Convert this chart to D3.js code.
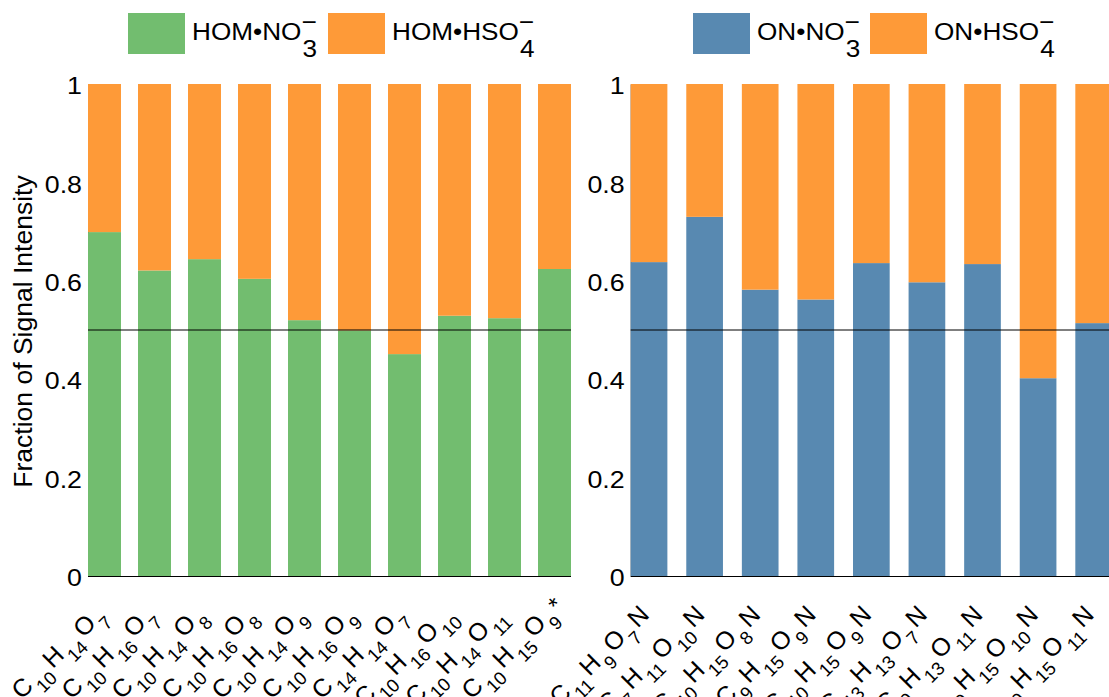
<!DOCTYPE html>
<html>
<head>
<meta charset="utf-8">
<script src="https://cdn.jsdelivr.net/npm/d3@7"></script>
<style>
  body { margin: 0; background: #fff; }
  text { font-family: "Liberation Sans", Arial, Helvetica, sans-serif; fill: #000; }
</style>
</head>
<body>
<svg id="chart" width="1109" height="697"></svg>
<script>
// HOM panel: fraction of each molecule detected as the nitrate cluster
const homFormulas = ["C10H14O7", "C10H16O7", "C10H14O8", "C10H16O8", "C10H14O9",
                     "C10H16O9", "C14H14O7", "C10H16O10", "C10H14O11", "C10H15O9*"];
const homNitrate = [0.699, 0.621, 0.644, 0.604, 0.520, 0.499, 0.451, 0.529, 0.524, 0.624];

// Organic nitrate panel
const onFormulas = ["C11H9O7N", "C7H11O10N", "C10H15O8N", "C9H15O9N", "C10H15O9N",
                    "C13H13O7N", "C9H13O11N", "C10H15O10N", "C10H15O11N"];
const onNitrate = [0.638, 0.730, 0.582, 0.562, 0.636, 0.597, 0.634, 0.402, 0.514];

const yTicks = [0, 0.2, 0.4, 0.6, 0.8, 1];
const yTickLabels = ["0", "0.2", "0.4", "0.6", "0.8", "1"];
const referenceLevel = 0.5;
const yTitle = "Fraction of Signal Intensity";

const homLegend = [
  { key: "nitrate", main: "HOM\u2022NO", sub: "3" },
  { key: "bisulfate", main: "HOM\u2022HSO", sub: "4" }
];
const onLegend = [
  { key: "nitrate", main: "ON\u2022NO", sub: "3" },
  { key: "bisulfate", main: "ON\u2022HSO", sub: "4" }
];

const colors = { green: "#72bd6f", blue: "#5889b1", orange: "#fe9a38" };

const svg = d3.select("#chart");
const y = d3.scaleLinear().domain([0, 1]).range([576, 84]);

// split a formula into element symbols and subscript counts
function formulaRuns(f) {
  const runs = [];
  const re = /([A-Z][a-z]?)(\d*)/g;
  let m;
  while ((m = re.exec(f)) !== null) {
    runs.push({ t: m[1], kind: "main" });
    if (m[2]) runs.push({ t: m[2], kind: "sub" });
  }
  return runs;
}

function drawPanel(opts) {
  const { formulas, nitrate, x0, x1, color, showTitle } = opts;
  const g = svg.append("g");
  const x = d3.scaleBand().domain(formulas).range([x0, x1])
    .paddingInner(0.34).paddingOuter(0);

  const rows = formulas.map((f, i) => ({ f, nitrate: nitrate[i], bisulfate: 1 - nitrate[i] }));
  const series = d3.stack().keys(["nitrate", "bisulfate"])(rows);
  const fill = { nitrate: color, bisulfate: colors.orange };

  // y axis
  const yAxis = d3.axisLeft(y).tickValues(yTicks)
    .tickFormat((d, i) => yTickLabels[i]).tickSize(0).tickPadding(6);
  const ya = g.append("g").attr("transform", `translate(${x0},0)`).call(yAxis);
  ya.select(".domain").attr("stroke", "#444").attr("stroke-width", 1);
  ya.selectAll(".tick text")
    .attr("font-size", 23.3).attr("fill", "#000")
    .attr("font-family", "Liberation Sans, Arial, sans-serif")
    .attr("x", null).attr("dy", "0.42em")
    .attr("transform", "translate(-6,0) scale(1.15,1)");

  // stacked bars
  g.append("g").selectAll("g").data(series).join("g")
    .attr("fill", s => fill[s.key])
    .selectAll("rect").data(s => s).join("rect")
    .attr("x", d => x(d.data.f))
    .attr("width", x.bandwidth())
    .attr("y", d => y(d[1]))
    .attr("height", d => y(d[0]) - y(d[1]));

  // baseline and 0.5 reference line
  g.append("line").attr("x1", x0).attr("x2", x1)
    .attr("y1", y(0) + 0.5).attr("y2", y(0) + 0.5)
    .attr("stroke", "#000").attr("stroke-width", 1.2);
  g.append("line").attr("x1", x0).attr("x2", x1)
    .attr("y1", y(referenceLevel)).attr("y2", y(referenceLevel))
    .attr("stroke", "#000").attr("stroke-width", 1);

  // rotated formula labels
  formulas.forEach(f => {
    const cx = x(f) + x.bandwidth() / 2;
    const lg = g.append("g")
      .attr("transform", `translate(${cx + 1.5},${y(0) + 40}) rotate(-45)`);
    const t = lg.append("text").attr("text-anchor", "end").attr("font-size", 25);
    let prev = null;
    formulaRuns(f).forEach(r => {
      const ts = t.append("tspan").text(r.t);
      if (r.kind === "sub") {
        ts.attr("font-size", 18.5).attr("dx", 2).attr("dy", 11);
      } else if (prev === "sub") {
        ts.attr("dx", 3).attr("dy", -11);
      }
      prev = r.kind;
    });
    if (f.endsWith("*")) {
      lg.append("text").attr("x", 3).attr("y", 0)
        .attr("font-size", 24).text("*");
    }
  });

  if (showTitle) {
    svg.append("text")
      .attr("transform", `translate(32,${(y(0) + y(1)) / 2 + 1.5}) rotate(-90)`)
      .attr("text-anchor", "middle")
      .attr("font-size", 26.5)
      .text(yTitle);
  }
}

function drawLegend(items, rectXs, fills) {
  items.forEach((it, i) => {
    const rx = rectXs[i];
    svg.append("rect").attr("x", rx).attr("y", 13).attr("width", 57).attr("height", 41)
      .attr("fill", fills[it.key]);
    const tg = svg.append("g").attr("transform", `translate(${rx + 64},40) scale(1.09,1)`);
    const main = tg.append("text").attr("x", 0).attr("y", 0)
      .attr("font-size", 24).text(it.main);
    const w = main.node().getComputedTextLength();
    tg.append("text").attr("x", w).attr("y", -10.5)
      .attr("font-size", 24).text("\u2212");
    tg.append("text").attr("x", w + 1).attr("y", 16.7)
      .attr("font-size", 24).text(it.sub);
  });
}

drawPanel({ formulas: homFormulas, nitrate: homNitrate, x0: 88, x1: 571, color: colors.green, showTitle: true });
drawPanel({ formulas: onFormulas, nitrate: onNitrate, x0: 630.7, x1: 1112, color: colors.blue, showTitle: false });

drawLegend(homLegend, [128, 328], { nitrate: colors.green, bisulfate: colors.orange });
drawLegend(onLegend, [693, 870], { nitrate: colors.blue, bisulfate: colors.orange });
</script>
</body>
</html>
